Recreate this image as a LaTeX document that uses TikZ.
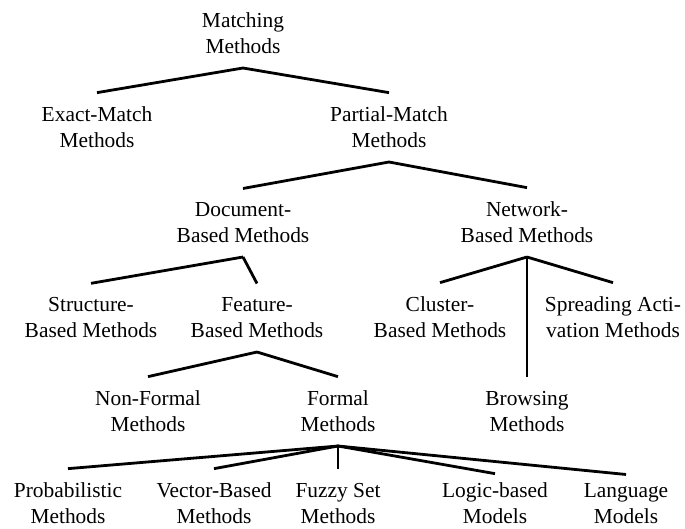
\documentclass[tikz,border=0pt]{standalone}
\usepackage{fontspec}
\setmainfont{Liberation Serif}
\begin{document}
\begin{tikzpicture}[x=1pt, y=-1pt, line width=2.8pt,
    mth/.style={align=center, anchor=south, inner xsep=0pt, inner ysep=13pt,
      font=\fontsize{21.4}{25.5}\selectfont}]
    \useasboundingbox (0,0) rectangle (685,528);
    \node[mth] (cat0) at (243,68){Matching\\Methods};
    \node[mth] (cat1) at (97,162){Exact-Match\\Methods};
    \node[mth] (cat2) at (389,162){Partial-Match\\Methods};
    \draw[](cat0.south) -- (cat1.north);
    \draw[](cat0.south) -- (cat2.north);
    \node[mth] (cat3) at (243,257){Document-\\Based Methods};
    \node[mth] (cat4) at (527,257){Network-\\Based Methods};
    \draw[](cat2.south) -- (cat3.north);
    \draw[](cat2.south) -- (cat4.north);
    \node[mth] (cat5) at (91,352){Structure-\\Based Methods};
    \node[mth] (cat6) at (257,352){Feature-\\Based Methods};
    \draw[](cat3.south) -- (cat5.north);
    \draw[](cat3.south) -- (cat6.north);
    \node[mth] (cat7) at (440,352){Cluster-\\Based Methods};
    \node[mth] (cat8) at (613,352){Spreading Acti-\\vation Methods};
    \node[mth] (cat11) at (527,446){Browsing\\Methods};
    \draw[](cat4.south) -- (cat7.north);
    \draw[](cat4.south) -- (cat8.north);
    \draw[](cat4.south) -- (cat11.north);
    \node[mth] (cat9) at (148,446){Non-Formal\\Methods};
    \node[mth] (cat10) at (338,446){Formal\\Methods};
    \draw[](cat6.south) -- (cat9.north);
    \draw[](cat6.south) -- (cat10.north);
    \node[mth] (cat12) at (68,538){Probabilistic\\Methods};
    \node[mth] (cat13) at (214,538){Vector-Based\\Methods};
    \node[mth] (cat14) at (338,538){Fuzzy Set\\Methods};
    \node[mth] (cat15) at (495,538){Logic-based\\Models};
    \node[mth] (cat16) at (626,538){Language\\Models};
    \draw[](cat10.south) -- (cat12.north);
    \draw[](cat10.south) -- (cat13.north);
    \draw[](cat10.south) -- (cat14.north);
    \draw[](cat10.south) -- ([yshift=-5pt]cat15.north);
    \draw[](cat10.south) -- ([yshift=-5pt]cat16.north);
  \end{tikzpicture}
\end{document}
